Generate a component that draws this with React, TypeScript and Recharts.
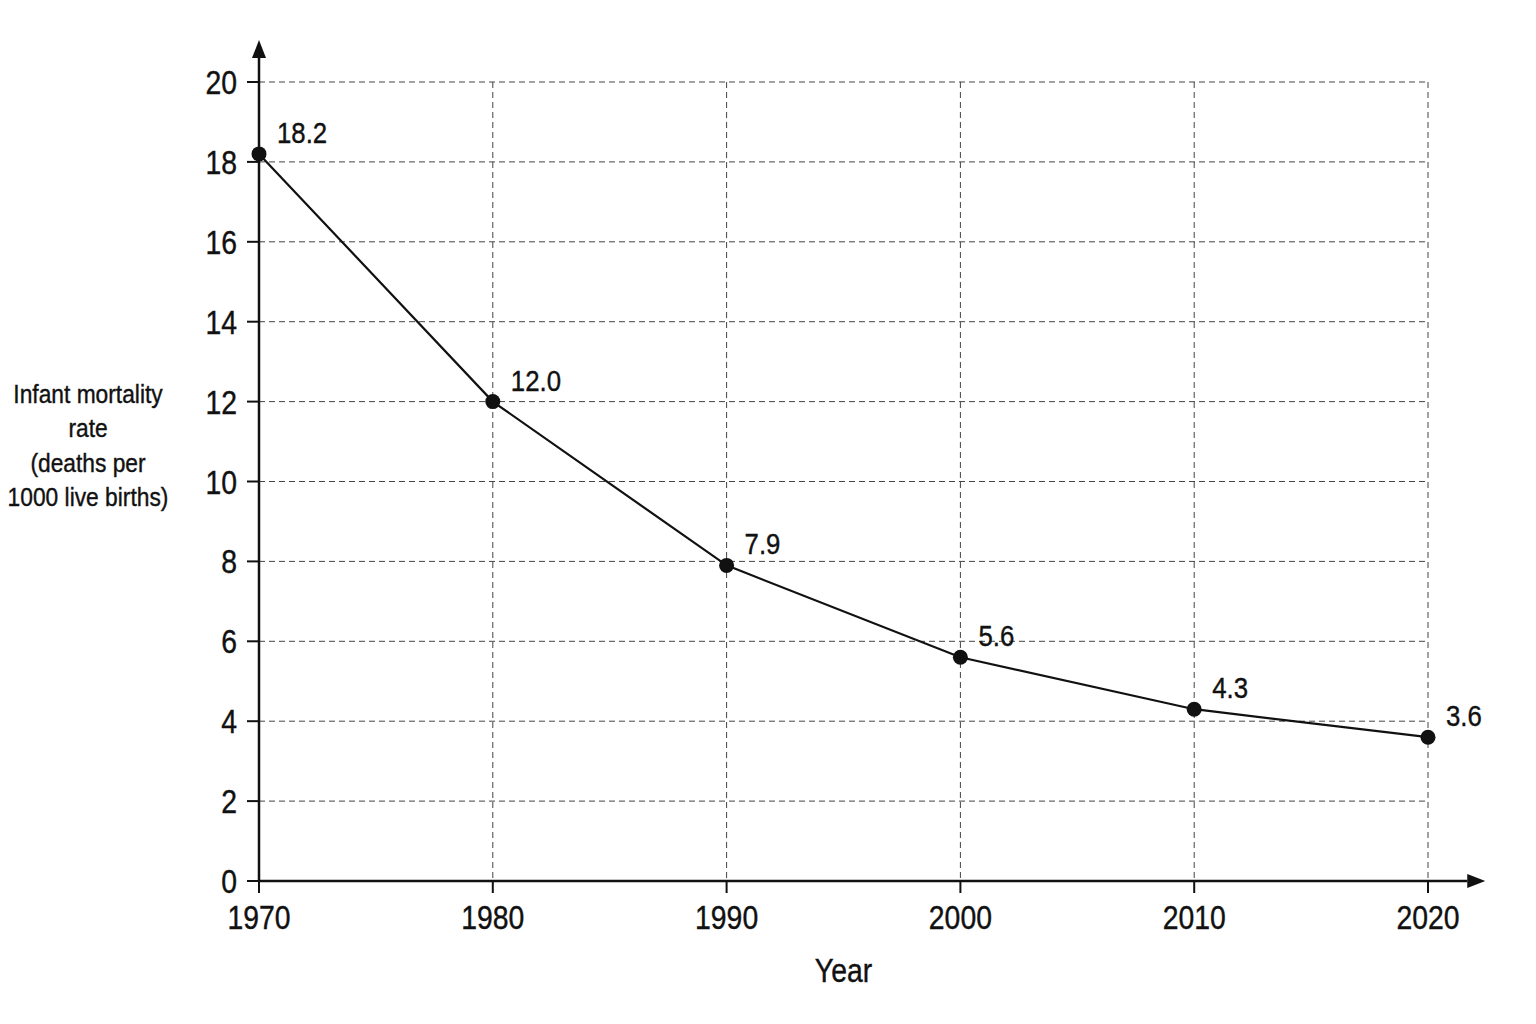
import { LineChart, Line, XAxis, YAxis, CartesianGrid, LabelList, ReferenceLine } from "recharts";

const years = [1970, 1980, 1990, 2000, 2010, 2020];
const mortality = [18.2, 12.0, 7.9, 5.6, 4.3, 3.6];
const yTicks = [0, 2, 4, 6, 8, 10, 12, 14, 16, 18, 20];
const yLabelLines = ["Infant mortality", "rate", "(deaths per", "1000 live births)"];

const data = years.map((year, i) => ({ year, rate: mortality[i] }));

const FONT = "'Liberation Sans', Arial, sans-serif";
const INK = "#111";
const SQUEEZE = 0.86; // no narrow font installed, so squeeze Liberation Sans

function NarrowText({ x, y, size, anchor = "start", children }: any) {
  return (
    <text
      transform={`translate(${x},${y}) scale(${SQUEEZE},1)`}
      textAnchor={anchor}
      fontSize={size}
      fontFamily={FONT}
      fill={INK}
      stroke={INK}
      strokeWidth={0.4}
    >
      {children}
    </text>
  );
}

// axis line with an arrowhead at the far end
function ArrowLine(props: any) {
  const { x1, y1, x2, y2 } = props;
  const ang = Math.atan2(y2 - y1, x2 - x1);
  const len = 18;
  const half = 7;
  const bx = x2 - len * Math.cos(ang);
  const by = y2 - len * Math.sin(ang);
  const px = -Math.sin(ang) * half;
  const py = Math.cos(ang) * half;
  return (
    <g>
      <line x1={x1} y1={y1} x2={bx} y2={by} stroke={INK} strokeWidth={2.5} />
      <polygon points={`${x2},${y2} ${bx + px},${by + py} ${bx - px},${by - py}`} fill={INK} />
    </g>
  );
}

function XTick(props: any) {
  const { x, y, payload } = props;
  return (
    <NarrowText x={x} y={y + 32} size={33} anchor="middle">
      {payload.value}
    </NarrowText>
  );
}

function YTick(props: any) {
  const { x, y, payload } = props;
  return (
    <NarrowText x={x} y={y + 12} size={33} anchor="end">
      {payload.value}
    </NarrowText>
  );
}

function PointLabel(props: any) {
  const { x, y, value } = props;
  return (
    <NarrowText x={x + 18} y={y - 11} size={30}>
      {Number(value).toFixed(1)}
    </NarrowText>
  );
}

function YTitle(props: any) {
  const { viewBox } = props;
  const cx = 88;
  const cy = viewBox.y + viewBox.height / 2 - 36;
  const gap = 34.5;
  const start = cy - (gap * (yLabelLines.length - 1)) / 2;
  return (
    <g>
      {yLabelLines.map((l, i) => (
        <NarrowText key={l} x={cx} y={start + i * gap + 9} size={26.5} anchor="middle">
          {l}
        </NarrowText>
      ))}
    </g>
  );
}

function XTitle(props: any) {
  const { viewBox } = props;
  return (
    <NarrowText x={viewBox.x + viewBox.width / 2} y={982} size={33} anchor="middle">
      Year
    </NarrowText>
  );
}

export default function App() {
  return (
    <div style={{ position: "absolute", left: 0, top: 0, background: "#fff" }}>
      <LineChart
        width={1536}
        height={1024}
        data={data}
        margin={{ top: 82, right: 108, bottom: 83, left: 0 }}
      >
        <CartesianGrid stroke="#444" strokeDasharray="6 4" strokeWidth={1} />
        <XAxis
          dataKey="year"
          type="number"
          domain={[1970, 2020]}
          ticks={years}
          height={60}
          axisLine={false}
          tickLine={{ stroke: INK, strokeWidth: 2 }}
          tickSize={12}
          tickMargin={4}
          tick={XTick}
          label={{ content: XTitle }}
        />
        <YAxis
          type="number"
          domain={[0, 20]}
          ticks={yTicks}
          width={259}
          axisLine={false}
          tickLine={{ stroke: INK, strokeWidth: 2 }}
          tickSize={12}
          tickMargin={10}
          tick={YTick}
          label={{ content: YTitle }}
        />
        <ReferenceLine
          segment={[{ x: 1970, y: 0 }, { x: 2022.45, y: 0 }]}
          ifOverflow="visible"
          shape={ArrowLine}
        />
        <ReferenceLine
          segment={[{ x: 1970, y: 0 }, { x: 1970, y: 21.05 }]}
          ifOverflow="visible"
          shape={ArrowLine}
        />
        <Line
          type="linear"
          dataKey="rate"
          stroke={INK}
          strokeWidth={2.2}
          dot={{ r: 7.5, fill: INK, stroke: INK, strokeWidth: 0 }}
          isAnimationActive={false}
        >
          <LabelList dataKey="rate" content={PointLabel} />
        </Line>
      </LineChart>
    </div>
  );
}
